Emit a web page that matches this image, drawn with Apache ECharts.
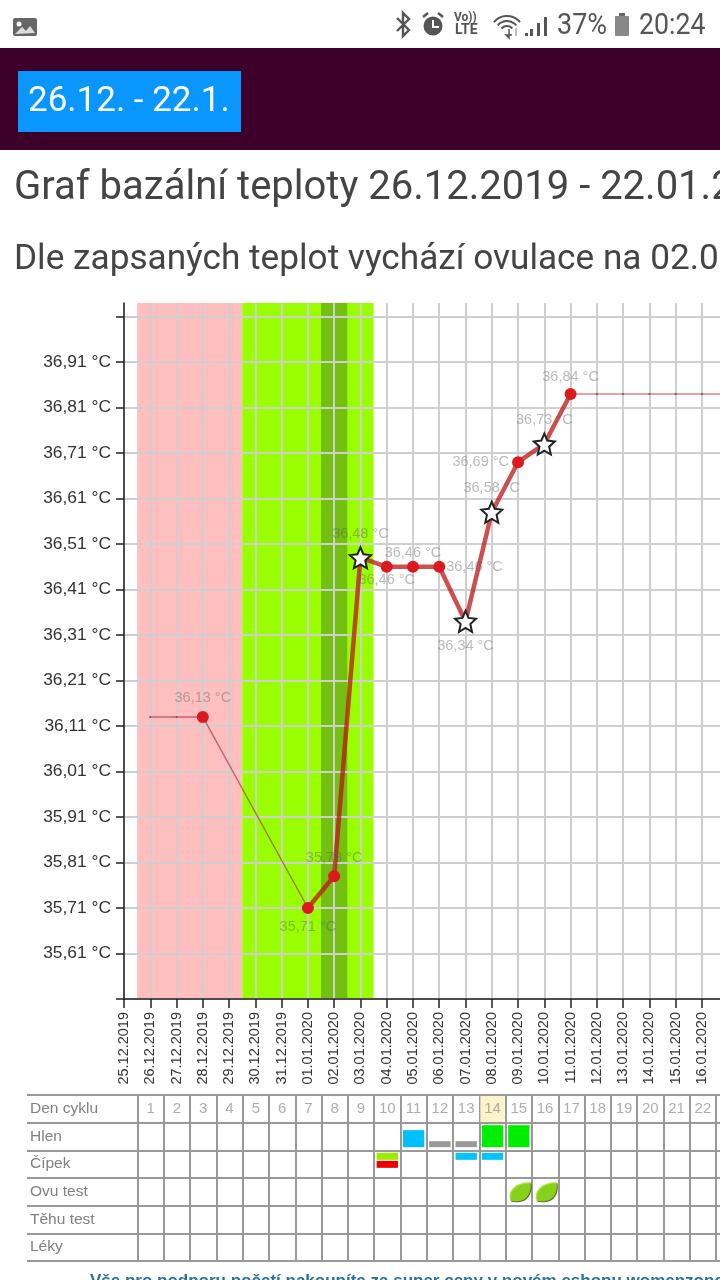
<!DOCTYPE html>
<html>
<head>
<meta charset="utf-8">
<style>
  html, body { margin: 0; padding: 0; background: #fff; }
  #chart { width: 720px; height: 1280px; }
</style>
<script src="https://cdn.jsdelivr.net/npm/echarts@6/dist/echarts.min.js"></script>
</head>
<body>
<div id="chart"></div>
<script>
// data
var dayLabels = ["25.12.2019", "26.12.2019", "27.12.2019", "28.12.2019", "29.12.2019", "30.12.2019", "31.12.2019",
  "01.01.2020", "02.01.2020", "03.01.2020", "04.01.2020", "05.01.2020", "06.01.2020", "07.01.2020", "08.01.2020",
  "09.01.2020", "10.01.2020", "11.01.2020", "12.01.2020", "13.01.2020", "14.01.2020", "15.01.2020", "16.01.2020",
  "17.01.2020", "18.01.2020", "19.01.2020", "20.01.2020", "21.01.2020", "22.01.2020"];
var yTicks = [35.51, 35.61, 35.71, 35.81, 35.91, 36.01, 36.11, 36.21, 36.31, 36.41, 36.51, 36.61, 36.71, 36.81, 36.91, 37.01];
var yLabelTicks = [35.61, 35.71, 35.81, 35.91, 36.01, 36.11, 36.21, 36.31, 36.41, 36.51, 36.61, 36.71, 36.81, 36.91];

// measured temperatures
var tempDays = [3, 7, 8, 9, 10, 11, 12, 13, 14, 15, 16, 17];
var tempValues = [36.13, 35.71, 35.78, 36.48, 36.46, 36.46, 36.46, 36.34, 36.58, 36.69, 36.73, 36.84];
var starDays = [9, 13, 14, 16];
var thickDays = [7, 8, 9, 10, 11, 12, 13, 14, 15, 16, 17];

// thin line: days without a measurement
var thinBeforeDays = [1, 2, 3, 7];
var thinBeforeValues = [36.13, 36.13, 36.13, 35.71];
var thinAfterDays = [17, 18, 19, 20, 21, 22, 23, 24, 25, 26, 27, 28];
var thinAfterValues = [36.84, 36.84, 36.84, 36.84, 36.84, 36.84, 36.84, 36.84, 36.84, 36.84, 36.84, 36.84];

// background phases, in day positions
var periodBand = [0.5, 4.5];
var fertileBand = [4.5, 9.5];
var ovulationBand = [7.5, 8.5];

// table below the chart
var tableRows = ["Den cyklu", "Hlen", "Čípek", "Ovu test", "Těhu test", "Léky"];
var cycleDays = [1, 2, 3, 4, 5, 6, 7, 8, 9, 10, 11, 12, 13, 14, 15, 16, 17, 18, 19, 20, 21, 22, 23, 24];
var cellDays = [14, 11, 12, 13, 14, 15, 10, 10, 13, 14];
var cellRows = ["Den cyklu", "Hlen", "Hlen", "Hlen", "Hlen", "Hlen", "Čípek", "Čípek", "Čípek", "Čípek"];
var cellKinds = ["today", "blueBig", "grey", "grey", "green", "green", "lime", "red", "blueThin", "blueThin"];
var ovuTestDays = [15, 16];

var cellStyles = {
  today: { color: "#fdf3c8", top: 1, height: 26 },
  blueBig: { color: "#00bfff", top: 7.5, height: 17 },
  grey: { color: "#999999", top: 18.5, height: 6 },
  green: { color: "#00ee00", top: 2.5, height: 22 },
  lime: { color: "#99ee00", top: 2.5, height: 7 },
  red: { color: "#ee0000", top: 10.5, height: 7 },
  blueThin: { color: "#00c4ff", top: 2.5, height: 7 }
};

var labelPlace = {
  3: ["top", 5], 7: ["bottom", 5], 8: ["top", 5], 9: ["top", 5], 10: ["bottom", 0], 11: ["top", 0],
  12: ["right", 1], 13: ["bottom", 6], 14: ["top", 5], 15: ["left", 3], 16: ["top", 5], 17: ["top", 3]
};

var starPath = "path://M50 0 L64 32 L100 36 L73 60 L81 96 L50 78 L19 96 L27 60 L0 36 L36 32 Z";
var leafPath = "path://M1 19 C-3 8 6 0 22 0 C24 10 18 19 8 19 C5 19 3 18 1 19 Z";

function pairs(xs, ys) {
  return xs.map(function (x, i) { return [x, ys[i]]; });
}
function tempLabel(v) {
  return v.toFixed(2).replace(".", ",") + " °C";
}

var pointData = tempDays.map(function (d, i) {
  var star = starDays.indexOf(d) >= 0;
  return {
    value: [d, tempValues[i]],
    symbol: star ? starPath : "circle",
    symbolSize: star ? 21 : 12,
    itemStyle: star
      ? { color: "#fff", borderColor: "#222", borderWidth: 2, opacity: 1 }
      : { color: "#dc1a1e", opacity: 1 },
    label: { position: labelPlace[d][0], distance: labelPlace[d][1] }
  };
});
var thickData = thickDays.map(function (d) { return [d, tempValues[tempDays.indexOf(d)]]; });

function bandArea(range, color) {
  return [{ xAxis: range[0], itemStyle: { color: color, opacity: 1 } }, { xAxis: range[1] }];
}

var textGrey = "#555";
var graphics = [
  // status bar
  { type: "rect", shape: { x: 13, y: 18, width: 24, height: 18, r: 2 }, style: { fill: "#666" } },
  { type: "circle", shape: { cx: 19, cy: 24, r: 2.5 }, style: { fill: "#fff" } },
  { type: "polygon", shape: { points: [[15, 34], [22, 27], [26, 31], [30, 26], [35, 33]] }, style: { fill: "#ddd" } },
  { type: "polyline", shape: { points: [[397, 18], [409, 30], [403, 36], [403, 13], [409, 19], [397, 31]] }, style: { stroke: textGrey, lineWidth: 2.4, fill: null } },
  { type: "circle", shape: { cx: 433, cy: 26, r: 9.5 }, style: { fill: textGrey } },
  { type: "polyline", shape: { points: [[433, 20], [433, 27], [439, 27]] }, style: { stroke: "#fff", lineWidth: 2, fill: null } },
  { type: "line", shape: { x1: 423, y1: 17, x2: 428, y2: 13 }, style: { stroke: textGrey, lineWidth: 2.5 } },
  { type: "line", shape: { x1: 438, y1: 13, x2: 443, y2: 17 }, style: { stroke: textGrey, lineWidth: 2.5 } },
  { type: "text", style: { text: "Vo))", x: 454, y: 12, font: "bold 12px Roboto", fill: textGrey } },
  { type: "text", style: { text: "LTE", x: 455, y: 23, font: "bold 14px Roboto", fill: textGrey } },
  { type: "arc", shape: { cx: 507, cy: 33, r: 17, startAngle: -2.45, endAngle: -0.7 }, style: { stroke: textGrey, lineWidth: 2, fill: null } },
  { type: "arc", shape: { cx: 507, cy: 33, r: 12, startAngle: -2.45, endAngle: -0.7 }, style: { stroke: textGrey, lineWidth: 2, fill: null } },
  { type: "arc", shape: { cx: 507, cy: 33, r: 7, startAngle: -2.45, endAngle: -0.7 }, style: { stroke: textGrey, lineWidth: 2, fill: null } },
  { type: "polyline", shape: { points: [[509, 29], [509, 38], [506, 35], [512, 35]] }, style: { stroke: textGrey, lineWidth: 1.5, fill: null } },
  { type: "line", shape: { x1: 516, y1: 36, x2: 516, y2: 28 }, style: { stroke: "#aaa", lineWidth: 1.5 } },
  { type: "rect", shape: { x: 525, y: 33, width: 3, height: 3 }, style: { fill: textGrey } },
  { type: "rect", shape: { x: 530, y: 29, width: 3, height: 7 }, style: { fill: textGrey } },
  { type: "rect", shape: { x: 537, y: 23, width: 3, height: 13 }, style: { fill: textGrey } },
  { type: "rect", shape: { x: 544, y: 17, width: 3, height: 19 }, style: { fill: textGrey } },
  { type: "text", x: 557, scaleX: 0.93, style: { text: "37%", x: 0, y: 12, font: "29px Roboto", fill: textGrey } },
  { type: "rect", shape: { x: 615, y: 16, width: 14, height: 20, r: 1 }, style: { fill: "#888" } },
  { type: "rect", shape: { x: 619, y: 13, width: 6, height: 3 }, style: { fill: "#666" } },
  { type: "text", x: 639, scaleX: 0.92, style: { text: "20:24", x: 0, y: 12, font: "29px Roboto", fill: textGrey } },
  // page header
  { type: "rect", shape: { x: 0, y: 48, width: 720, height: 102 }, style: { fill: "#3d002a" } },
  { type: "rect", shape: { x: 18, y: 71, width: 223, height: 61 }, style: { fill: "#0a96ff" } },
  { type: "text", style: { text: "26.12. - 22.1.", x: 28, y: 85, font: "35px Roboto", fill: "#fff" } },
  { type: "text", style: { text: "Graf bazální teploty 26.12.2019 - 22.01.2020", x: 14, y: 169, font: "40px Roboto", fill: "#444" } },
  { type: "text", style: { text: "Dle zapsaných teplot vychází ovulace na 02.01.2020", x: 14, y: 243, font: "35.2px Roboto", fill: "#444" } },
  // link under the table
  { type: "text", style: { text: "Vše pro podporu početí nakoupíte za super ceny v novém eshopu womenzone", x: 90, y: 1273, font: "bold 17px 'Liberation Sans'", fill: "#2a6f9e" } }
];

var option = {
  animation: false,
  backgroundColor: "#fff",
  textStyle: { fontFamily: "'Liberation Sans', Arial, sans-serif" },
  graphic: graphics,
  grid: [
    { left: 124, top: 303, width: 28 * 26.27, height: 696, containLabel: false, outerBoundsMode: "none" },
    { left: 27, top: 1095, width: 32.2 * 26.3, height: 166, containLabel: false, outerBoundsMode: "none" }
  ],
  xAxis: [
    {
      type: "value", gridIndex: 0, min: 0, max: 28, interval: 1,
      axisLine: { onZero: false, lineStyle: { color: "#222", width: 1.5 } },
      axisTick: { length: 9, lineStyle: { color: "#222", width: 1.5 } },
      axisLabel: {
        rotate: 90, margin: 13, color: "#333", fontSize: 14.5,
        formatter: function (v) { return dayLabels[v] || ""; }
      },
      splitLine: { show: true, lineStyle: { color: "#cfcfcf", width: 2 } }
    },
    {
      type: "value", gridIndex: 1, min: -4.2, max: 28,
      axisLine: { show: false },
      axisTick: { show: false, customValues: [0].concat(cycleDays) },
      axisLabel: { show: false },
      splitLine: { show: true, lineStyle: { color: "#999", width: 2 } }
    }
  ],
  yAxis: [
    {
      type: "value", gridIndex: 0, min: 35.51, max: 37.04,
      axisLine: { show: true, lineStyle: { color: "#222", width: 1.5 } },
      axisTick: { show: true, length: 8, customValues: yTicks, lineStyle: { color: "#222", width: 1.5 } },
      axisLabel: {
        customValues: yLabelTicks, margin: 13, color: "#333", fontSize: 17.4,
        formatter: tempLabel
      },
      splitLine: { show: true, lineStyle: { color: "#cfcfcf", width: 2 } }
    },
    {
      type: "category", gridIndex: 1, data: tableRows, inverse: true,
      axisLine: { show: false },
      axisTick: { show: false },
      axisLabel: { inside: true, margin: 3, color: "#808080", fontSize: 15.5, align: "left", padding: [2, 0, 0, 0] },
      splitLine: { show: true, lineStyle: { color: "#999", width: 2 } }
    }
  ],
  series: [
    {
      // phase bands sit under the grid lines
      type: "line", xAxisIndex: 0, yAxisIndex: 0, z: -1, data: [], silent: true,
      markArea: {
        silent: true, z: -1,
        data: [
          bandArea(periodBand, "#ffbfbf"),
          bandArea(fertileBand, "#99ff00"),
          bandArea(ovulationBand, "#73bf12")
        ]
      }
    },
    {
      type: "line", xAxisIndex: 0, yAxisIndex: 0, z: 3,
      data: pairs(thinBeforeDays, thinBeforeValues),
      symbol: "circle", symbolSize: 2,
      itemStyle: { color: "#b03a44" },
      lineStyle: { color: "rgba(170,30,50,0.6)", width: 1.4 }
    },
    {
      type: "line", xAxisIndex: 0, yAxisIndex: 0, z: 3,
      data: pairs(thinAfterDays, thinAfterValues),
      symbol: "circle", symbolSize: 2,
      itemStyle: { color: "#b03a44" },
      lineStyle: { color: "rgba(200,50,70,0.6)", width: 1.4 }
    },
    {
      type: "line", xAxisIndex: 0, yAxisIndex: 0, z: 4,
      data: thickData, symbol: "none",
      lineStyle: { color: "rgba(190,20,20,0.75)", width: 4.5 }
    },
    {
      type: "scatter", xAxisIndex: 0, yAxisIndex: 0, z: 5,
      data: pointData,
      label: {
        show: true, color: "rgba(90,90,90,0.42)", fontSize: 14.5,
        formatter: function (p) { return tempLabel(p.value[1]); }
      }
    },
    {
      type: "custom", xAxisIndex: 1, yAxisIndex: 1, z: 1,
      data: cellDays.map(function (d, i) { return [d, cellRows[i], cellKinds[i]]; }),
      encode: { x: 0, y: 1 },
      dimensions: [{ type: "number" }, { type: "ordinal" }, { type: "ordinal" }],
      renderItem: function (params, api) {
        var day = api.value(0);
        var kind = cellKinds[params.dataIndex];
        var st = cellStyles[kind];
        var rowIdx = tableRows.indexOf(cellRows[params.dataIndex]);
        var p = api.coord([day - 1, rowIdx]);
        var size = api.size([1, 1]);
        var inset = kind === "today" ? 1 : 2.5;
        return {
          type: "rect",
          shape: { x: p[0] + inset, y: p[1] - size[1] / 2 + st.top, width: size[0] - 2 * inset, height: st.height },
          style: { fill: st.color }
        };
      }
    },
    {
      // day numbers in the first row
      type: "scatter", xAxisIndex: 1, yAxisIndex: 1, z: 3,
      data: cycleDays.map(function (d) { return [d - 0.5, 0, d]; }),
      symbolSize: 0,
      label: {
        show: true, position: "inside", color: "#999", fontSize: 15,
        formatter: function (p) { return String(p.value[2]); }
      }
    },
    {
      type: "scatter", xAxisIndex: 1, yAxisIndex: 1, z: 4,
      data: ovuTestDays.map(function (d) { return [d - 0.45, 3]; }),
      symbol: leafPath, symbolSize: [21, 19],
      itemStyle: { color: "#8ee815", shadowColor: "#3a5208", shadowOffsetX: 1, shadowOffsetY: 1, shadowBlur: 0.5 }
    }
  ]
};

var myChart = echarts.init(document.getElementById("chart"), null, { renderer: "canvas", width: 720, height: 1280 });
myChart.setOption(option);
</script>
</body>
</html>
